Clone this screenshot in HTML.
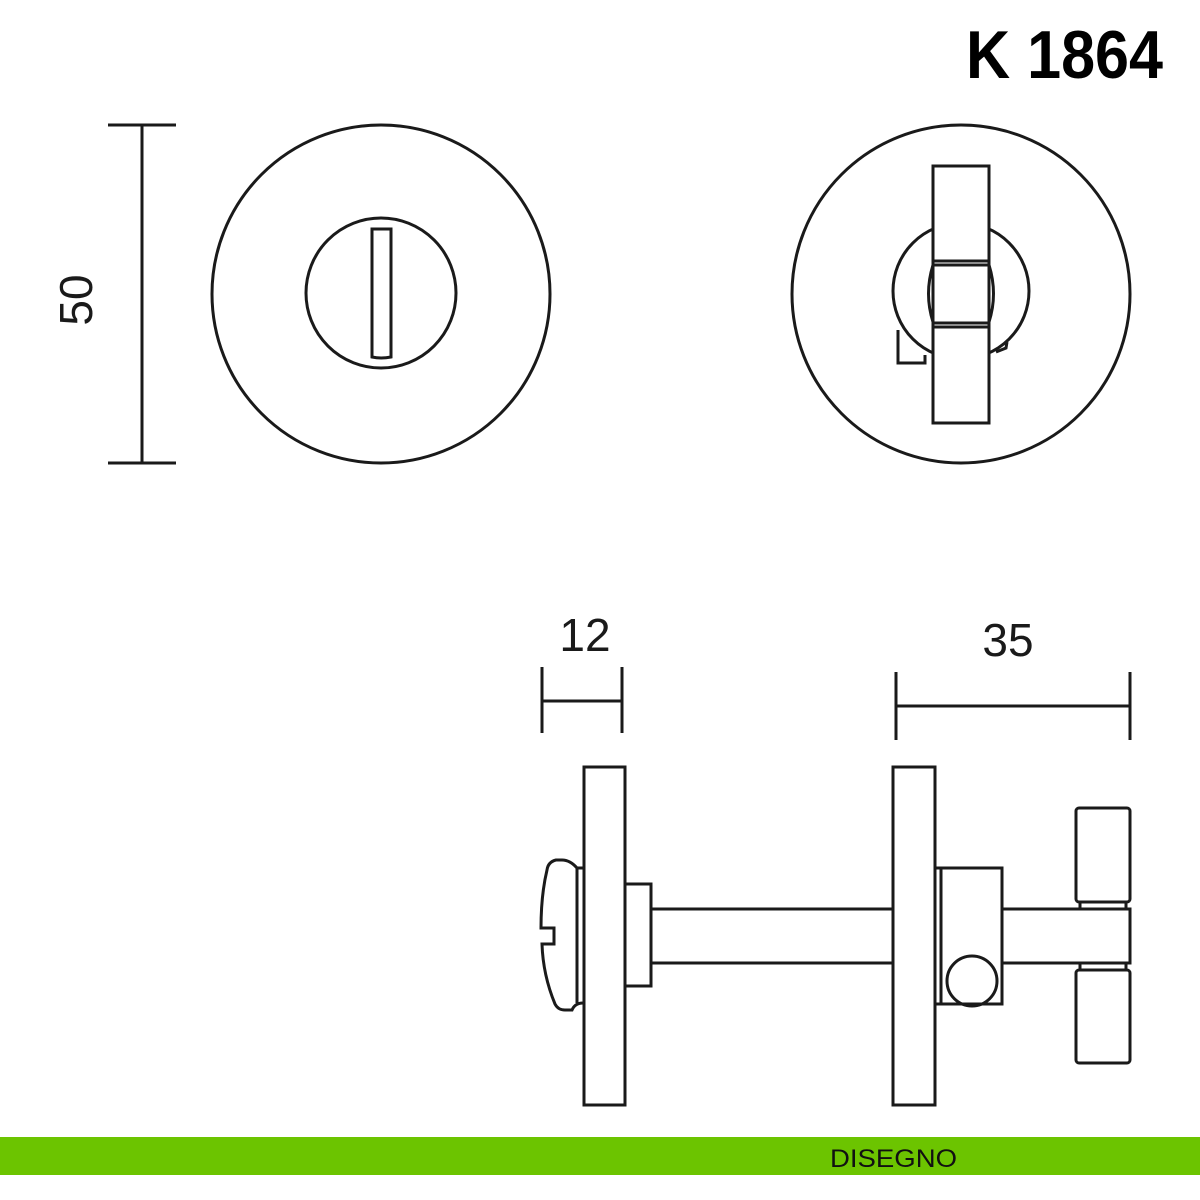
<!DOCTYPE html>
<html><head><meta charset="utf-8"><style>html,body{margin:0;padding:0;background:#fff}svg{display:block}</style></head>
<body>
<svg width="1200" height="1200" viewBox="0 0 1200 1200" xmlns="http://www.w3.org/2000/svg">
<rect width="1200" height="1200" fill="#fff"/>
<text x="966" y="78" font-family="Liberation Sans, sans-serif" font-weight="bold" font-size="68" textLength="197" lengthAdjust="spacingAndGlyphs" fill="#000">K 1864</text>
<g fill="none" stroke="#1a1a1a" stroke-width="3">
<line x1="142" y1="125" x2="142" y2="463"/>
<line x1="108" y1="125" x2="176" y2="125"/>
<line x1="108" y1="463" x2="176" y2="463"/>
<circle cx="381" cy="294" r="169"/>
<circle cx="381" cy="293" r="75"/>
<path d="M372 229 L391 229 L391 357 Q381 359 372 357 Z"/>
<circle cx="961" cy="294" r="169"/>
<circle cx="961" cy="291" r="68"/>
<path d="M898 330 L898 363 L925 363 L925 355" fill="#fff"/>
<path d="M996 352 L1006 348 L1007 342"/>
<path d="M933 265 Q924 294 933 322 M989 265 Q998 294 989 322"/>
<rect x="933" y="166" width="56" height="95" fill="#fff"/>
<rect x="933" y="327" width="56" height="96" fill="#fff"/>
<rect x="933" y="265" width="56" height="58" fill="#fff"/>
<line x1="933" y1="261" x2="933" y2="327"/><line x1="989" y1="261" x2="989" y2="327"/>
<line x1="542" y1="667" x2="542" y2="733"/>
<line x1="622" y1="667" x2="622" y2="733"/>
<line x1="542" y1="701" x2="622" y2="701"/>
<line x1="896" y1="672" x2="896" y2="740"/>
<line x1="1130" y1="672" x2="1130" y2="740"/>
<line x1="896" y1="706" x2="1130" y2="706"/>
<rect x="584" y="767" width="41" height="338"/>
<rect x="625" y="884" width="26" height="102"/>
<path d="M651 909 H893 M651 963 H893"/>
<path d="M583 868 L577 868 Q570 860 562 860 L556 860 Q548 862 547 870 Q541 895 541 928 L554 928 L554 944 L542 944 Q543 975 555 1004 Q558 1010 565 1010 L572 1010 Q575 1003 583 1003"/>
<line x1="577" y1="868" x2="577" y2="1003"/>
<rect x="893" y="767" width="42" height="338"/>
<rect x="935" y="868" width="67" height="136"/>
<line x1="941" y1="868" x2="941" y2="1004"/>
<circle cx="972" cy="981" r="25"/>
<path d="M1002 909 H1130 V963 H1002"/>
<rect x="1076" y="808" width="54" height="94" rx="3"/>
<rect x="1076" y="970" width="54" height="93" rx="3"/>
<path d="M1080 902 V909 M1126 902 V909 M1080 963 V970 M1126 963 V970"/>
</g>
<text transform="translate(92,300) rotate(-90)" text-anchor="middle" font-family="Liberation Sans, sans-serif" font-size="46" fill="#1a1a1a">50</text>
<text x="585" y="651" text-anchor="middle" font-family="Liberation Sans, sans-serif" font-size="46" fill="#1a1a1a">12</text>
<text x="1008" y="656" text-anchor="middle" font-family="Liberation Sans, sans-serif" font-size="46" fill="#1a1a1a">35</text>
<rect x="0" y="1137" width="1200" height="38" fill="#6cc400"/>
<text x="830" y="1167" font-family="Liberation Sans, sans-serif" font-size="25" textLength="127" lengthAdjust="spacingAndGlyphs" fill="#111">DISEGNO</text>
</svg>
</body></html>
